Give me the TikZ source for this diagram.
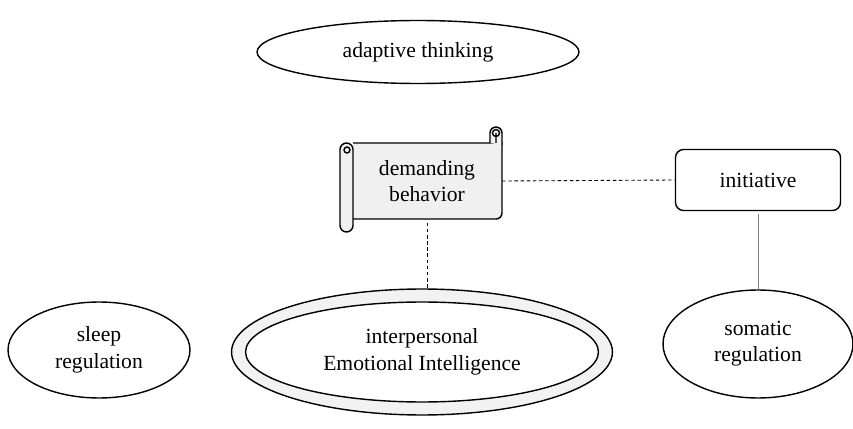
\documentclass[tikz,border=0pt]{standalone}
\usepackage{fontspec}
\setmainfont{Liberation Serif}
\usetikzlibrary{
  shapes.geometric
  , calc
}
\tikzset{
  oval/.style={draw, ellipse, inner sep=0pt, align=center},
  link/.style={dash pattern=on 2pt off 1.5pt, line width=0.5pt},
}

\begin{document}
\begin{tikzpicture}[x=0.02cm, y=-0.02cm, line width=0.8pt,
    font=\fontsize{12.3}{15}\selectfont]
      \def\ScrollColor {gray!12};
      \def\RingColor {gray!10};
      \useasboundingbox (0,0) rectangle (853,429);

      \node [oval,
        minimum width=6.44cm,
        minimum height=1.26cm,
      ] (adapt) at (418, 52) {adaptive thinking};

      % scroll around demanding behavior
      \filldraw[fill=\ScrollColor] (353,143) -- (502,143)
      [rounded corners=0.12cm] -- (502,219) -- (353,219);
      \filldraw[fill=\ScrollColor, rounded corners=0.12cm]
      (490,143) -- (490,127) -- (502,127) -- (502,145);
      \draw (496,133) circle[radius=0.07cm] -- (496,143);
      \filldraw[fill=\ScrollColor, rounded corners=0.13cm]
      (340,143) rectangle (353,232);
      \draw (347,150) circle[radius=0.06cm];
      \node [
        minimum width=2.98cm,
        minimum height=1.52cm,
        inner sep=0pt,
        align=center,
      ] (demand) at (427, 181) {demanding\\behavior};

      \node [draw,
        rectangle,
        rounded corners=0.16cm,
        minimum width=3.3cm,
        minimum height=1.22cm,
      ] (init) at (758, 180) {initiative};

      \node [oval,
        minimum width=3.64cm,
        minimum height=1.92cm,
      ] (sleep) at (99, 350) {sleep\\regulation};

      \node [oval,
        fill=\RingColor,
        minimum width=7.62cm,
        minimum height=2.52cm,
      ] (interp) at (422, 352) {};
      \node [oval,
        fill=white,
        minimum width=7.06cm,
        minimum height=2.0cm,
      ] (interpIn) at (interp.center) {interpersonal\\Emotional Intelligence};

      \node [oval,
        minimum width=3.8cm,
        minimum height=2.16cm,
      ] (soma) at (758, 344) {somatic\\regulation};

      \draw[link] (demand.east) -- (init.west);
      \draw[link] ([yshift=-0.06cm]demand.south) -- (demand.south |- interp.north);
      \draw[gray, line width=0.5pt] ([yshift=-0.06cm]init.south) -- (soma.north);

    \end{tikzpicture}
\end{document}
